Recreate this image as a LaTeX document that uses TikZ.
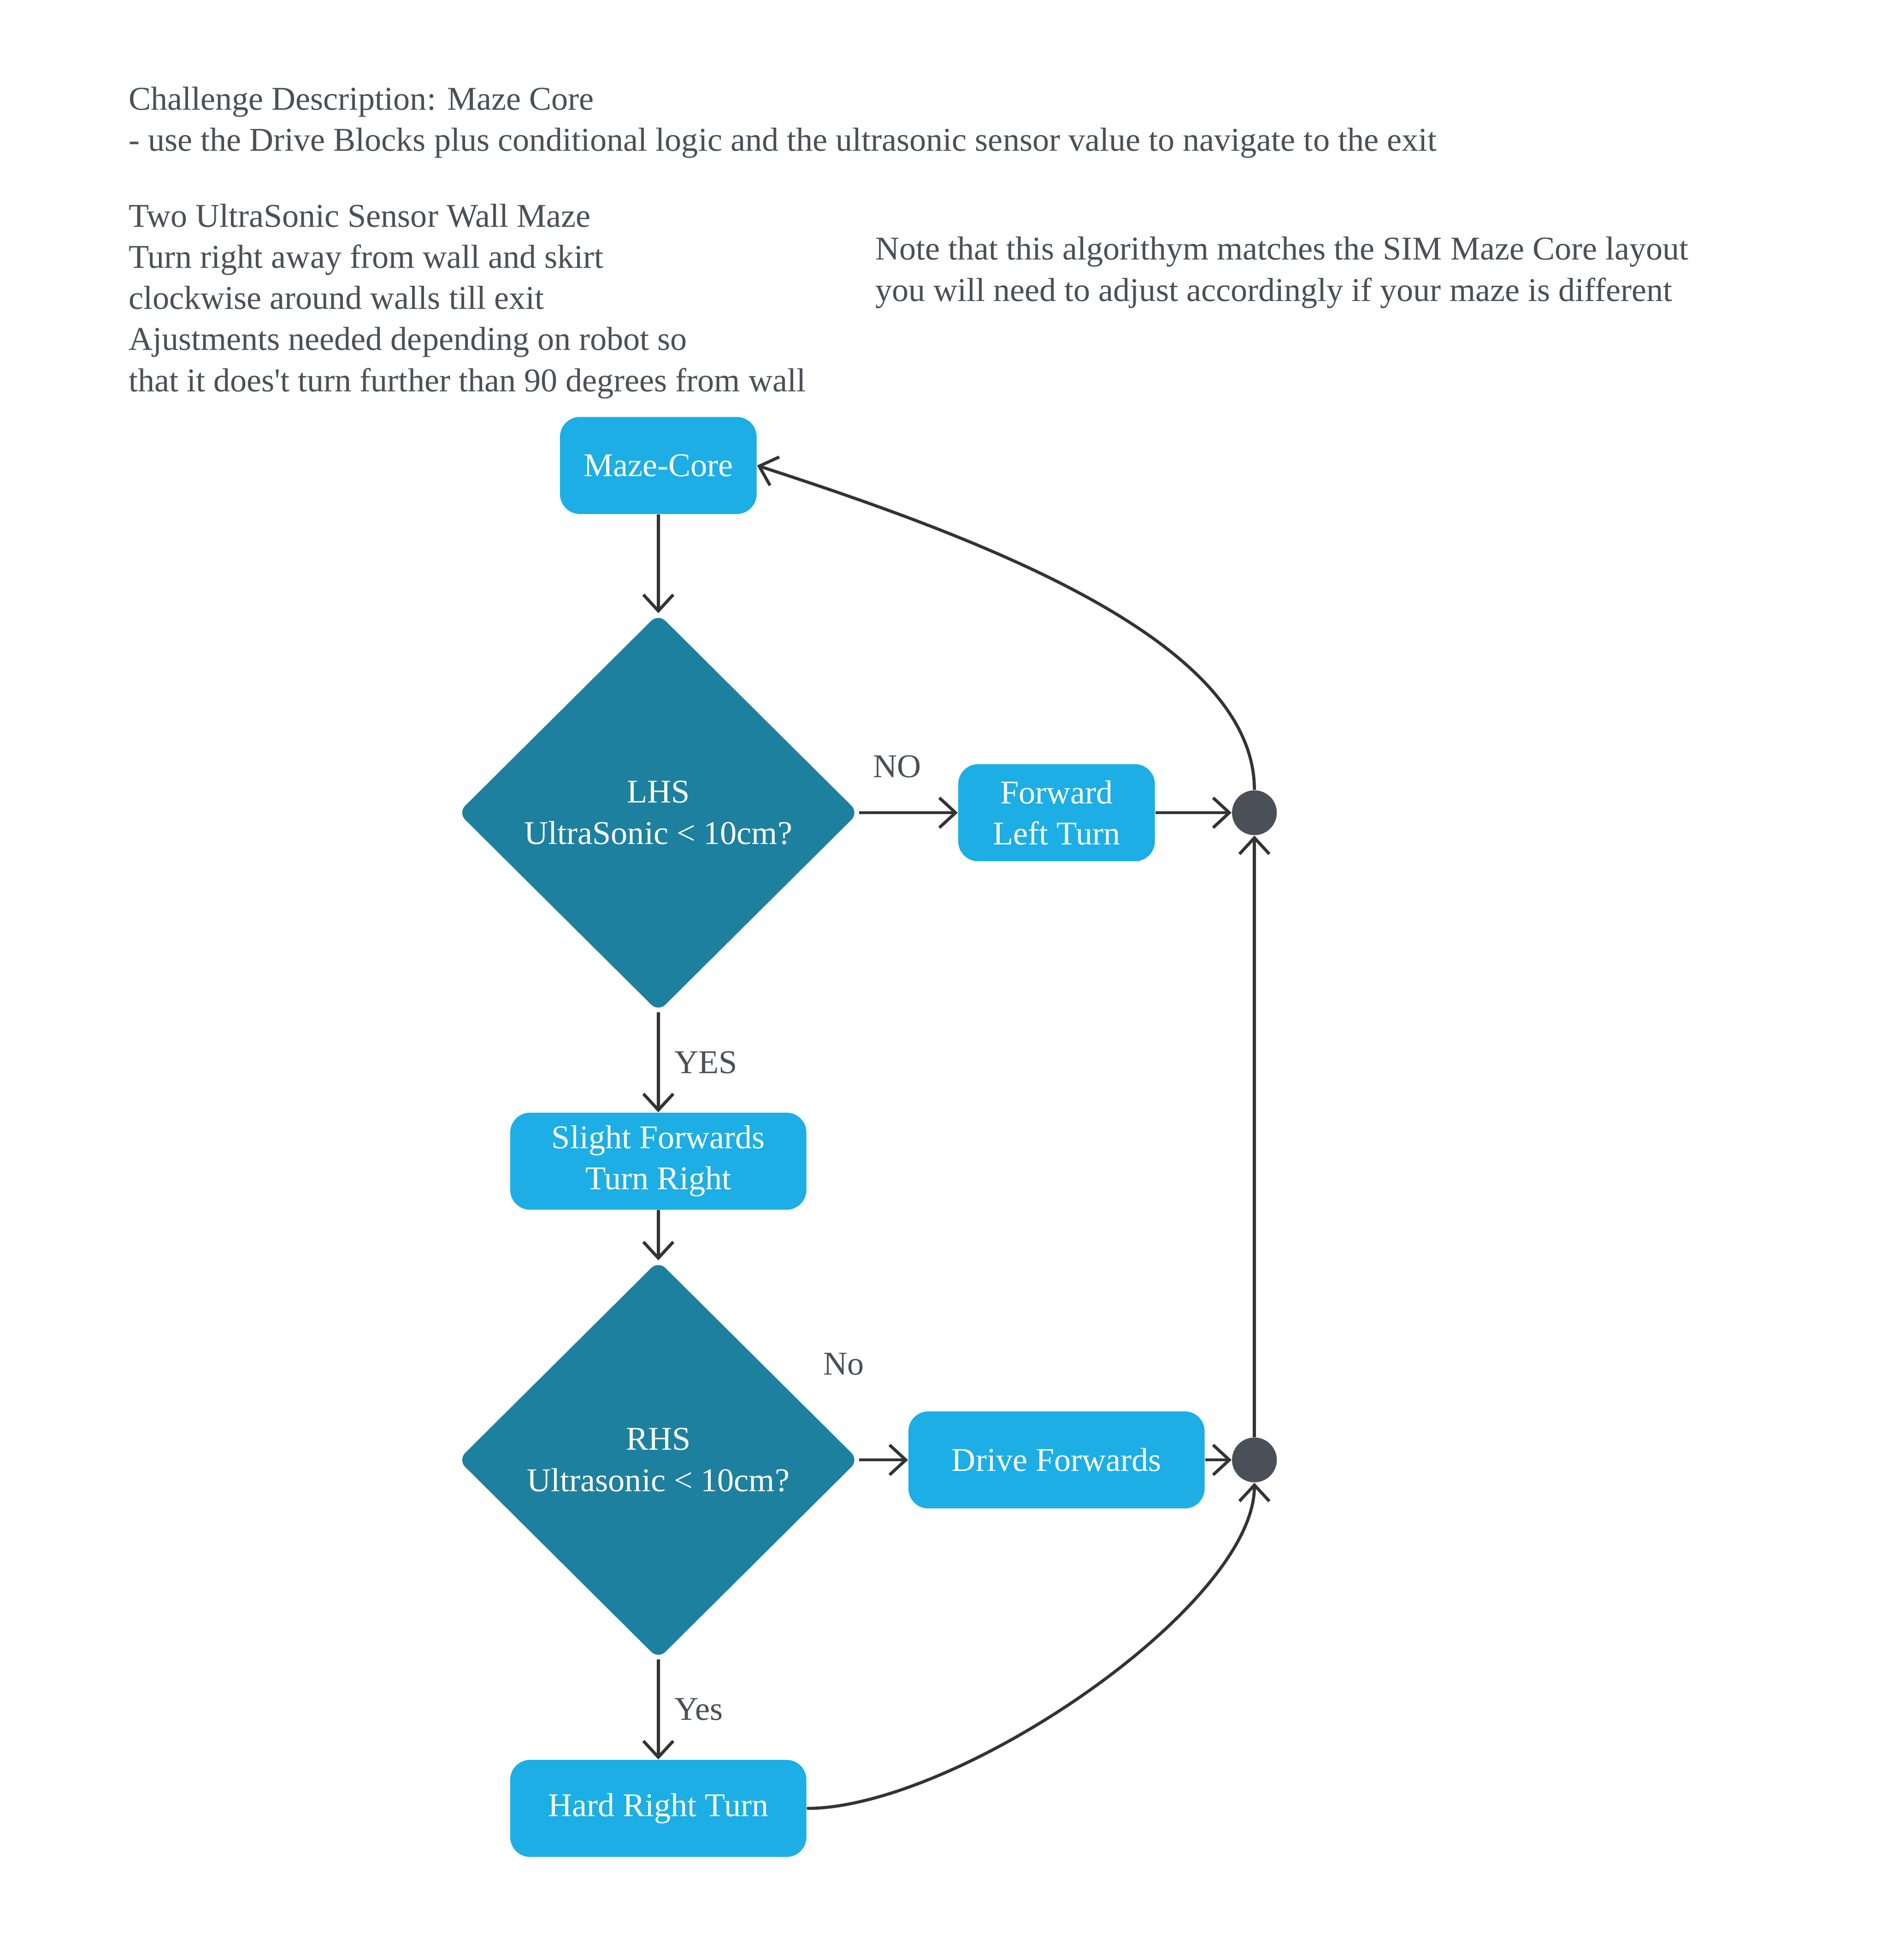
\documentclass[tikz,border=0pt]{standalone}
\usepackage{fontspec}
\setmainfont{Liberation Serif}
\usetikzlibrary{shapes.geometric,arrows.meta}

\definecolor{boxblue}{HTML}{1CAEE4}
\definecolor{decisionteal}{HTML}{1E809F}
\definecolor{dotgrey}{HTML}{4A5058}
\definecolor{linegrey}{HTML}{333333}
\definecolor{textgrey}{HTML}{4B5058}

\tikzset{
    every node/.style={font=\fontsize{15.2}{18.8}\selectfont},
    actionbox/.style={rectangle, rounded corners=0.32cm, fill=boxblue, text=white,
        align=center, minimum height=1.56cm, inner sep=0pt},
    shortbox/.style={actionbox, minimum width=3.16cm},
    widebox/.style={actionbox, minimum width=4.76cm},
    decision/.style={diamond, fill=decisionteal, text=white, align=center,
        minimum width=6.44cm, minimum height=6.4cm, inner sep=0pt, rounded corners=0.16cm},
    junction/.style={circle, fill=dotgrey, minimum size=0.72cm, inner sep=0pt},
    flow/.style={draw=linegrey, line width=1.4pt,
        -{Straight Barb[length=0.26cm, width=0.48cm]}},
    note/.style={text=textgrey, align=left, anchor=west, inner sep=0pt},
    lbl/.style={text=textgrey}
}

\begin{document}
\begin{tikzpicture}
                \useasboundingbox (0,0) rectangle (30.6,-31.4);

                \node[note] at (2.06,-1.97) (challenge) {Challenge Description: Maze Core\\
                    - use the Drive Blocks plus conditional logic and the ultrasonic sensor value to navigate to the exit};
                \node[note] at (2.06,-4.84) (method) {Two UltraSonic Sensor Wall Maze\\
                    Turn right away from wall and skirt\\
                    clockwise around walls till exit\\
                    Ajustments needed depending on robot so\\
                    that it does\textquotesingle t turn further than 90 degrees from wall};
                \node[note] at (14.06,-4.38) (layout) {Note that this algorithym matches the SIM Maze Core layout\\
                    you will need to adjust accordingly if your maze is different};

                \node[shortbox] at (10.58,-7.48) (mazecore) {Maze-Core};
                \node[decision] at (10.58,-13.06) (lhs) {LHS\\UltraSonic < 10cm?};
                \node[shortbox] at (16.98,-13.06) (fwdleft) {Forward\\Left Turn};
                \node[junction] at (20.16,-13.06) (j1) {};

                \node[widebox] at (10.58,-18.66) (slight) {Slight Forwards\\Turn Right};
                \node[decision] at (10.58,-23.46) (rhs) {RHS\\Ultrasonic < 10cm?};
                \node[widebox] at (16.98,-23.46) (drive) {Drive Forwards};
                \node[junction] at (20.16,-23.46) (j2) {};
                \node[widebox] at (10.58,-29.06) (hard) {Hard Right Turn};

                \draw[flow] (mazecore) -- (lhs);
                \draw[flow] (lhs) --node[lbl, xshift=-0.18cm, yshift=0.74cm]{NO} (fwdleft);
                \draw[flow] (fwdleft) -- (j1);
                \draw[flow] (lhs) --node[lbl, right=0.12cm]{YES} (slight);
                \draw[flow] (slight) -- (rhs);
                \draw[flow] (rhs) --node[lbl, xshift=-0.64cm, yshift=1.54cm]{No} (drive);
                \draw[flow] (drive) -- (j2);
                \draw[flow] (rhs) --node[lbl, right=0.12cm]{Yes} (hard);
                \draw[flow] (j2) -- (j1);
                \draw[flow] (j1.north) to[out=90, in=-18, out looseness=0.65, in looseness=1] (mazecore.east);
                \draw[flow] (hard.east) to[out=0, in=-90, out looseness=0.69, in looseness=0.57] (j2.south);

            \end{tikzpicture}
\end{document}
